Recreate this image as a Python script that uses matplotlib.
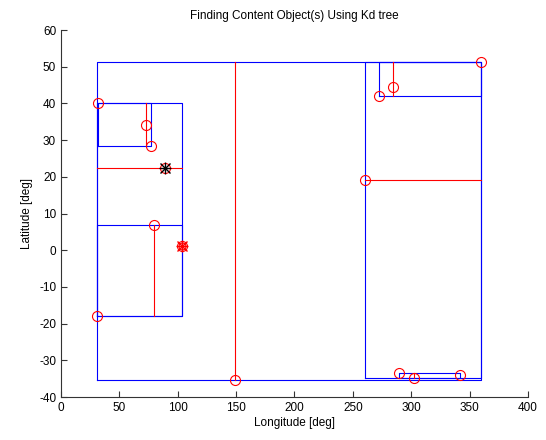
import matplotlib
matplotlib.use("Agg")
import matplotlib.pyplot as plt

# Data points (longitude, latitude)
pts_lon = [32, 73, 77, 80, 31, 103.5, 88.8, 149, 260, 272, 284, 360, 289.5, 302, 341.5]
pts_lat = [40, 34, 28.5, 7, -18, 1.2, 22.3, -35.4, 19, 42, 44.5, 51.3, -33.5, -34.7, -34]

# Query point and found content object
query_lon, query_lat = 88.8, 22.3
found_lon, found_lat = 103.5, 1.2

# Kd-tree node bounding boxes: (lon_min, lon_max, lat_min, lat_max)
box_lon_min = [31, 31, 32, 31, 260, 272, 289.5]
box_lon_max = [360, 103.5, 77, 103.5, 360, 360, 341.5]
box_lat_min = [-35.4, -18, 28.5, -18, -34.7, 42, -34.7]
box_lat_max = [51.3, 40, 40, 7, 51.3, 51.3, -33.5]

# Kd-tree split lines: (lon0, lon1, lat0, lat1)
split_lon0 = [149, 31, 73, 80, 260, 284, 302]
split_lon1 = [149, 103.5, 73, 80, 360, 284, 302]
split_lat0 = [-35.4, 22.3, 28.5, -18, 19, 42, -34.7]
split_lat1 = [51.3, 22.3, 40, 7, 19, 51.3, -33.5]

x_ticks = [0, 50, 100, 150, 200, 250, 300, 350, 400]
y_ticks = [-40, -30, -20, -10, 0, 10, 20, 30, 40, 50, 60]

plt.rcParams['font.family'] = ['Liberation Sans', 'DejaVu Sans']
plt.rcParams['axes.unicode_minus'] = False
fig = plt.figure(figsize=(5.46, 4.40), dpi=100)
ax = fig.add_axes([0.1117, 0.0977, 0.8553, 0.8341])

for x0, x1, y0, y1 in zip(box_lon_min, box_lon_max, box_lat_min, box_lat_max):
    ax.plot([x0, x1, x1, x0, x0], [y0, y0, y1, y1, y0], color='#0000ff', lw=0.8)

for x0, x1, y0, y1 in zip(split_lon0, split_lon1, split_lat0, split_lat1):
    ax.plot([x0, x1], [y0, y1], color='#ff0000', lw=0.8)

ax.plot(pts_lon, pts_lat, linestyle='none', marker='o', markersize=7.2,
        markerfacecolor='none', markeredgecolor='#ff0000', markeredgewidth=0.8)

ax.plot([query_lon], [query_lat], linestyle='none', marker='+', markersize=9,
        color='black', markeredgewidth=1.0)
ax.plot([query_lon], [query_lat], linestyle='none', marker='x', markersize=7,
        color='black', markeredgewidth=1.0)
ax.plot([found_lon], [found_lat], linestyle='none', marker='+', markersize=9,
        color='#ff0000', markeredgewidth=1.0)
ax.plot([found_lon], [found_lat], linestyle='none', marker='x', markersize=7,
        color='#ff0000', markeredgewidth=1.0)
ax.plot([found_lon], [found_lat], linestyle='none', marker='o', markersize=5,
        markerfacecolor='none', markeredgecolor='#ff0000', markeredgewidth=0.8)

ax.set_xlim(0, 400)
ax.set_ylim(-40, 60)
ax.set_xticks(x_ticks)
ax.set_yticks(y_ticks)
for s in ['top', 'right']:
    ax.spines[s].set_visible(False)
for s in ['left', 'bottom']:
    ax.spines[s].set_color('#333333')
    ax.spines[s].set_linewidth(0.8)
ax.tick_params(direction='in', length=4, width=0.8, colors='#333333',
               labelsize=8.5, labelcolor='black')
ax.set_xlabel('Longitude [deg]', fontsize=8.5, labelpad=2)
ax.set_ylabel('Latitude [deg]', fontsize=8.5, labelpad=4)
ax.set_title('Finding Content Object(s) Using Kd tree', fontsize=8.5, pad=8)

fig.savefig('out.png', dpi=100)
